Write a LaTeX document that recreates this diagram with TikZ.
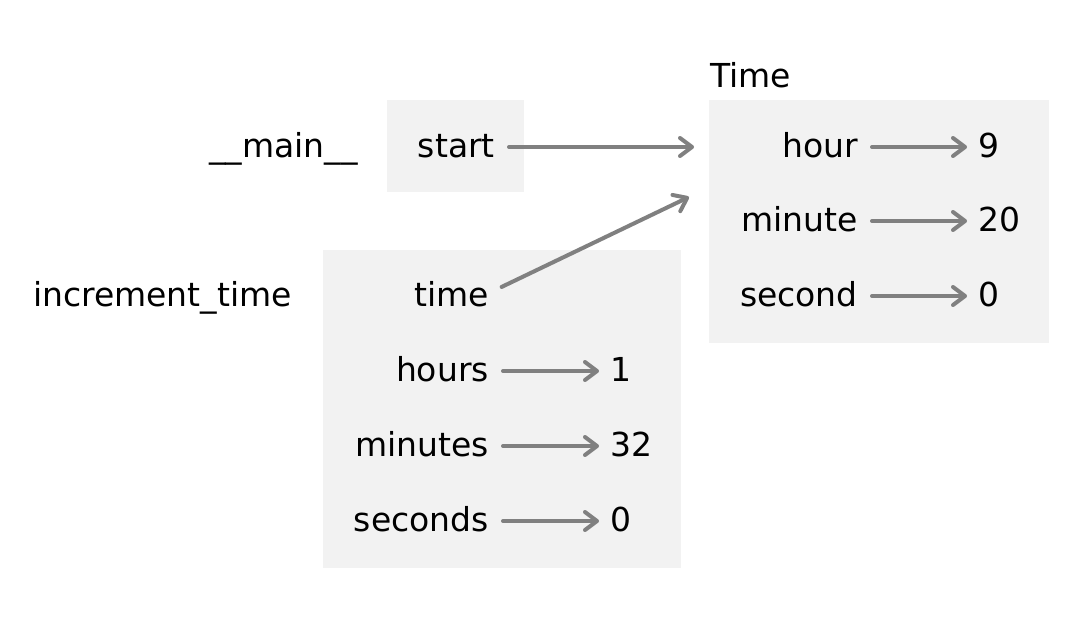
\documentclass[tikz,border=0pt]{standalone}
\usepackage{fontspec}
\setmainfont{DejaVu Sans}
\usetikzlibrary{positioning,arrows.meta}

\begin{document}
\begin{tikzpicture}
  [x=1pt, y=-1pt,
   every node/.style={inner sep=0pt, font=\fontsize{33}{40}\selectfont},
   frame/.style={fill=black!5, anchor=north west},
   var/.style={anchor=east, text height=20pt, text depth=0pt},
   val/.style={anchor=west, text height=20pt, text depth=0pt},
   ref/.style={draw=gray, line width=4pt, line cap=round,
     -{Straight Barb[length=12pt, width=18pt, round]},
     shorten <=14pt, shorten >=11pt}]
  \useasboundingbox (0,0) rectangle (1080,627);

  % frames
  \node[frame, minimum width=137pt, minimum height=92pt] (mainbox) at (387,100) {};
  \node[frame, minimum width=358pt, minimum height=318pt] (incbox) at (323,250) {};
  \node[frame, minimum width=340pt, minimum height=243pt] (tbox) at (709,100) {};

  % __main__
  \node[var] (main) at (358,147) {\_\_main\_\_};
  \node[var] (start) at (495,147) {start};

  % Time object
  \node[anchor=base west] (tname) at (710,87) {Time};
  \node[var] (hour) at (858,147) {hour};
  \node[var] (minute) at (858,221) {minute};
  \node[var] (second) at (858,296) {second};
  \node[val] (hourv) at (978,147) {9};
  \node[val] (minutev) at (978,221) {20};
  \node[val] (secondv) at (978,296) {0};

  % increment_time
  \node[var] (inc) at (292,296) {increment\_time};
  \node[var] (time) at (489,296) {time};
  \node[var] (hours) at (489,371) {hours};
  \node[var] (minutes) at (489,446) {minutes};
  \node[var] (seconds) at (489,521) {seconds};
  \node[val] (hoursv) at (610,371) {1};
  \node[val] (minutesv) at (610,446) {32};
  \node[val] (secondsv) at (610,521) {0};

  \coordinate (tin) at (694,147);
  \coordinate (tin2) at (689,197);

  \draw[ref, shorten >=0pt] (start.east) -- (tin);
  \draw[ref, shorten >=0pt] ([yshift=3pt]time.east) -- (tin2);
  \draw[ref] (hour.east) -- (hourv.west);
  \draw[ref] (minute.east) -- (minutev.west);
  \draw[ref] (second.east) -- (secondv.west);
  \draw[ref] (hours.east) -- (hoursv.west);
  \draw[ref] (minutes.east) -- (minutesv.west);
  \draw[ref] (seconds.east) -- (secondsv.west);
\end{tikzpicture}
\end{document}
